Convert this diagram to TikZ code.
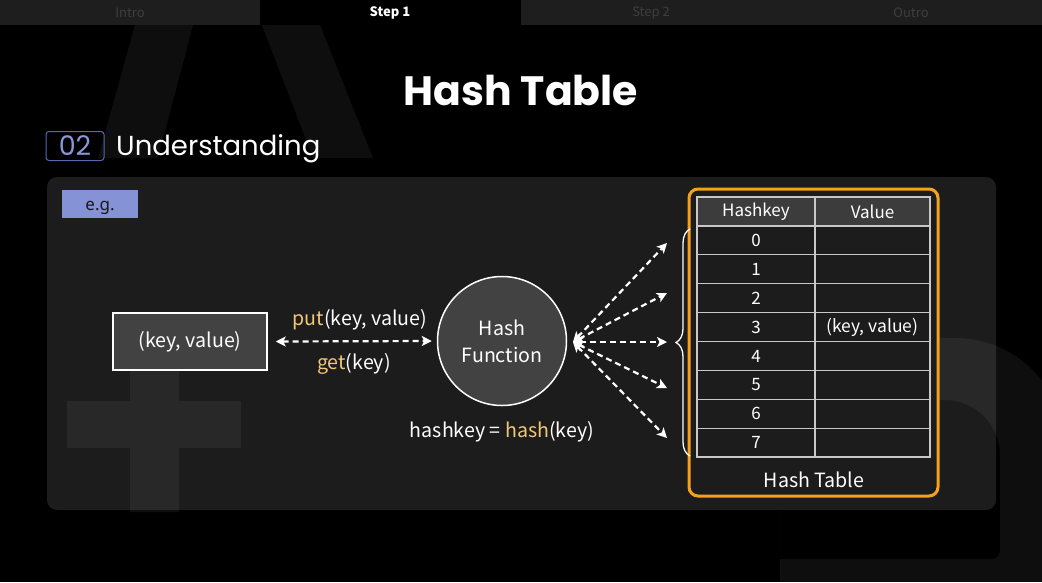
\documentclass[tikz,border=0pt]{standalone}
\usepackage{fontspec}
\setmainfont{Noto Sans CJK KR}
\newfontfamily\popfont{Poppins}
\newfontfamily\tagfont{Noto Sans}
\usetikzlibrary{arrows.meta,decorations.pathreplacing}

\definecolor{tabbg}{HTML}{1E1E1E}
\definecolor{tabtxt}{HTML}{3E3E3E}
\definecolor{panelbg}{HTML}{1C1C1C}
\definecolor{boxbg}{HTML}{424242}
\definecolor{headbg}{HTML}{3C3C3C}
\definecolor{gridln}{HTML}{C8C8C8}
\definecolor{accent}{HTML}{F5A11E}
\definecolor{gold}{HTML}{F2C877}
\definecolor{egfill}{HTML}{8592D6}
\definecolor{numln}{HTML}{5A66AE}
\definecolor{numtxt}{HTML}{8A96D8}

\tikzset{
  txt/.style={text=white, inner sep=0pt},
  tabtext/.style={inner sep=0pt, font=\fontsize{13}{13}\selectfont},
  decor/.style={fill=white, fill opacity=0.055},
  flow/.style={white, line width=2.2pt, dash pattern=on 6pt off 4pt,
    {Stealth[length=10pt,width=10pt,inset=2.5pt]}-{Stealth[length=10pt,width=10pt,inset=2.5pt]}},
  cell/.style={draw=gridln, line width=1.2pt, minimum width=118pt,
    minimum height=28.875pt, inner sep=0pt, text=white,
    font=\fontsize{17}{17}\selectfont},
}

\begin{document}
\begin{tikzpicture}[x=1pt,y=-1pt]
\fill[black] (0,0) rectangle (1042,582);
\useasboundingbox (0,0) rectangle (1042,582);

% tab bar
\fill[tabbg] (0,0) rectangle (1042,25);
\fill[black] (260,0) rectangle (521,25);
\node[tabtext, text=tabtxt] (tab1) at (130,13) {Intro};
\node[tabtext, text=white, font=\fontsize{13}{13}\selectfont\bfseries] (tab2) at (390,13) {Step 1};
\node[tabtext, text=tabtxt] (tab3) at (651,13) {Step 2};
\node[tabtext, text=tabtxt] (tab4) at (911,13) {Outro};

% faint backdrop letter strokes
\fill[decor] (135,25) -- (193,25) -- (158,158) -- (98,158) -- cycle;
\fill[decor] (262,25) -- (320,25) -- (373,158) -- (313,158) -- cycle;

% content panel
\fill[panelbg, rounded corners=10pt] (47,177) rectangle (996,510);

% faint backdrop shapes over the panel
\fill[decor] (67,401) rectangle (241,448) (130,337) rectangle (179,512);
\fill[decor, even odd rule]
  (780,338) [rounded corners=110pt] -- (1065,338) -- (1065,720) [sharp corners] -- (780,720) -- cycle
  (780,400) [rounded corners=55pt] -- (1000,400) [rounded corners=8pt] -- (1000,559) [sharp corners] -- (780,559) -- cycle;

% headings
\node[txt, font=\popfont\bfseries\fontsize{41}{41}\selectfont] (title) at (521,90) {Hash Table};
\node[draw=numln, line width=1pt, rounded corners=3pt, minimum width=58pt,
  minimum height=29pt, inner sep=0pt, text=numtxt,
  font=\popfont\fontsize{27}{27}\selectfont] (num) at (75,146) {\raisebox{-1pt}{02}};
\node[txt, anchor=west, font=\popfont\fontsize{27.5}{27.5}\selectfont] (sec) at (116,149) {Understanding};

% example tag
\fill[egfill] (62,190) rectangle (138,218);
\node[inner sep=0pt, text=black!90, anchor=base,
  font=\tagfont\fontsize{17}{17}\selectfont] (eg) at (100,210) {e.g.};

% key/value source box
\node[draw=white, line width=1.5pt, fill=boxbg, minimum width=154pt,
  minimum height=57pt, inner sep=0pt, text=white,
  font=\fontsize{19.6}{19.6}\selectfont] (kv) at (190,341.5) {(key, value)};

% hash function
\node[circle, draw=white, line width=1.5pt, fill=boxbg, minimum size=129pt,
  inner sep=0pt, text=white, align=center,
  font=\fontsize{19.6}{27}\selectfont] (hf) at (502,341) {Hash\\Function};

\draw[flow] ([xshift=8pt]kv.east) -- ([xshift=-5pt]hf.west);
\node[txt, font=\fontsize{19.6}{19.6}\selectfont] (put) at (360,320) {\textcolor{gold}{put}(key, value)};
\node[txt, font=\fontsize{19.6}{19.6}\selectfont] (get) at (354,364) {\textcolor{gold}{get}(key)};
\node[txt, font=\fontsize{19.6}{19.6}\selectfont] (hk) at (502,432) {hashkey = \textcolor{gold}{hash}(key)};

% fan-out to buckets
\coordinate (hub) at (573,342);
\coordinate (b0) at (667,243);
\coordinate (b1) at (667,293);
\coordinate (b2) at (667,342);
\coordinate (b3) at (667,388);
\coordinate (b4) at (667,438);
\foreach \b in {b0,b1,b2,b3,b4} \draw[flow] (hub) -- (\b);

% hash table frame
\node[draw=accent, line width=3pt, fill=panelbg, rounded corners=9pt,
  minimum width=249pt, minimum height=307pt, inner sep=0pt] (frame) at (813.5,342.5) {};
\draw[white, line width=1.3pt, decorate, decoration={brace, amplitude=14pt}]
  (690,456) -- (690,229);

% table
\node[cell, fill=headbg] (hkey) at (756,211.5) {Hashkey};
\node[cell, fill=headbg, minimum width=115pt] (hval) at (872.5,211.5) {Value};
\foreach \i in {0,...,7} {
  \node[cell, fill=panelbg] (k\i) at (756,{226+28.875*(\i+0.5)}) {\i};
  \node[cell, fill=panelbg, minimum width=115pt] (v\i) at (872.5,{226+28.875*(\i+0.5)}) {};
}
\node[txt, font=\fontsize{17.5}{17.5}\selectfont] at (v3) {(key, value)};
\node[txt, font=\fontsize{19.6}{19.6}\selectfont] (htl) at (814,480) {Hash Table};
\end{tikzpicture}
\end{document}
